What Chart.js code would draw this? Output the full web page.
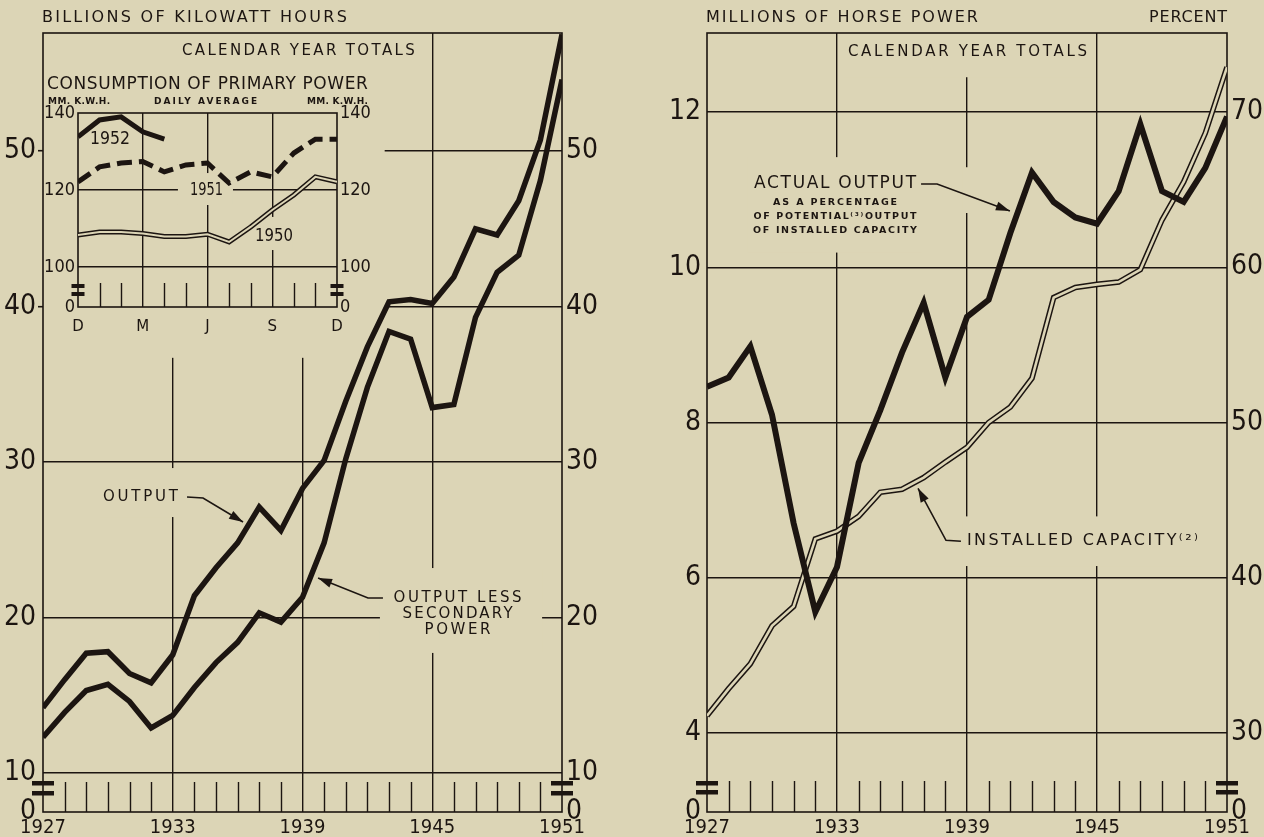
<!DOCTYPE html>
<html>
<head>
<meta charset="utf-8">
<title>Hydro power output and installed capacity</title>
<script src="https://cdn.jsdelivr.net/npm/chart.js@4.4.1/dist/chart.umd.min.js"></script>
<style>
  html, body { margin: 0; padding: 0; background: #dcd5b6; }
  #wrap { position: relative; width: 1264px; height: 837px; overflow: hidden; background: #dcd5b6; }
  canvas { position: absolute; }
  #left { left: 0; top: 0; }
  #inset { left: 0; top: 60px; }
  #right { left: 640px; top: 0; }
</style>
</head>
<body>
<div id="wrap">
  <canvas id="left" width="620" height="837"></canvas>
  <canvas id="inset" width="385" height="287"></canvas>
  <canvas id="right" width="624" height="837"></canvas>
</div>
<script>
const INK = '#1c1511';
const BG = '#dcd5b6';
const NUM_FONT = "'Liberation Sans Narrow', 'DejaVu Sans Condensed', 'Roboto Condensed', sans-serif";
const TXT_FONT = "'DejaVu Sans', Verdana, sans-serif";

// ---- data: calendar year totals ----
const years = [1927, 1928, 1929, 1930, 1931, 1932, 1933, 1934, 1935, 1936, 1937, 1938, 1939,
               1940, 1941, 1942, 1943, 1944, 1945, 1946, 1947, 1948, 1949, 1950, 1951];
const yearTicks = [1927, 1933, 1939, 1945, 1951];

// billions of kilowatt hours
const kwhTicks = [10, 20, 30, 40, 50];
const output = [14.2, 16.0, 17.7, 17.8, 16.4, 15.8, 17.6, 21.4, 23.2, 24.8, 27.1, 25.6, 28.3,
                30.1, 33.9, 37.4, 40.3, 40.45, 40.2, 41.9, 45.0, 44.6, 46.8, 50.7, 57.5];
const outputLessSecondary = [12.3, 13.9, 15.3, 15.7, 14.6, 12.9, 13.7, 15.5, 17.1, 18.4, 20.3, 19.7, 21.3,
                             24.8, 30.2, 34.8, 38.4, 37.9, 33.5, 33.7, 39.3, 42.2, 43.3, 48.1, 54.6];

// consumption of primary power, daily average, mm. k.w.h. (Dec .. Dec)
const months = ['D', 'J', 'F', 'M', 'A', 'M', 'J', 'J', 'A', 'S', 'O', 'N', 'D'];
const monthTicks = [0, 3, 6, 9, 12];
const dailyTicks = [100, 120, 140];
const daily1950 = [108.3, 109.1, 109.1, 108.7, 107.9, 107.9, 108.5, 106.5, 110.4, 114.8, 118.7, 123.4, 122.1];
const daily1951 = [122.1, 126.0, 127.0, 127.4, 124.7, 126.5, 127.0, 121.8, 124.7, 123.4, 129.6, 133.2, 133.2];
const daily1952 = [133.8, 138.2, 139.0, 135.1, 133.2];

// millions of horse power / percent
const hpTicks = [4, 6, 8, 10, 12];
const pctTicks = [30, 40, 50, 60, 70];
const installedCapacity = [4.22, 4.57, 4.89, 5.38, 5.63, 6.50, 6.60, 6.79, 7.10, 7.14, 7.29, 7.49, 7.68,
                           8.0, 8.2, 8.57, 9.61, 9.74, 9.78, 9.81, 9.97, 10.61, 11.1, 11.73, 12.58];
const actualOutputPct = [52.3, 52.9, 54.9, 50.5, 43.5, 37.8, 40.7, 47.4, 50.8, 54.5, 57.7, 52.9, 56.8,
                         57.9, 62.2, 66.1, 64.2, 63.2, 62.8, 64.9, 69.2, 64.9, 64.2, 66.4, 69.7];

const pts = (xs, ys) => ys.map((v, i) => ({ x: xs[i], y: v }));
const monthIdx = months.map((m, i) => i);

// text that is stretched (letter spacing) or squeezed to a given width
function fitText(ctx, str, cx, cy, width, font) {
  ctx.save();
  ctx.font = font;
  ctx.fillStyle = INK;
  ctx.textBaseline = 'middle';
  ctx.textAlign = 'left';
  const w = ctx.measureText(str).width;
  const n = Array.from(str).length;
  if (width > w && n > 1 && 'letterSpacing' in ctx) {
    ctx.letterSpacing = ((width - w) / (n - 1)).toFixed(2) + 'px';
    ctx.fillText(str, cx - width / 2, cy);
  } else if (width < w) {
    ctx.translate(cx - width / 2, cy);
    ctx.scale(width / w, 1);
    ctx.fillText(str, 0, 0);
  } else {
    ctx.fillText(str, cx - w / 2, cy);
  }
  ctx.restore();
}

// frame, minor ticks, axis breaks, labels and arrows
function makeDecor(conf) {
  return {
    id: 'decor',
    beforeDatasetsDraw(chart) {
      const { ctx, chartArea: a, scales } = chart;
      const X = v => scales.x.getPixelForValue(v);
      const Y = v => scales.y.getPixelForValue(v);
      ctx.save();
      ctx.fillStyle = BG;
      conf.boxes.forEach(b => {
        const x0 = X(b[0]), x1 = X(b[1]), y0 = Y(b[2]), y1 = Y(b[3]);
        ctx.fillRect(Math.min(x0, x1), Math.min(y0, y1), Math.abs(x1 - x0), Math.abs(y1 - y0));
      });
      ctx.strokeStyle = INK;
      ctx.lineWidth = 1.6;
      ctx.strokeRect(a.left, a.top, a.right - a.left, a.bottom - a.top);
      ctx.lineWidth = 1.4;
      ctx.beginPath();
      conf.minor.forEach(v => {
        const x = Math.round(X(v)) + 0.5;
        ctx.moveTo(x, a.bottom);
        ctx.lineTo(x, a.bottom - conf.minorLen);
      });
      ctx.stroke();
      ctx.fillStyle = INK;
      [a.left, a.right].forEach(edge => {
        conf.brk.ys.forEach(off => {
          ctx.fillRect(edge - conf.brk.w / 2, a.bottom - off, conf.brk.w, conf.brk.h);
        });
      });
      ctx.restore();
    },
    afterDatasetsDraw(chart) {
      const { ctx, scales } = chart;
      const X = v => scales.x.getPixelForValue(v);
      const Y = v => scales.y.getPixelForValue(v);
      conf.labels.forEach(l => {
        const font = (l.bold ? 'bold ' : '') + l.size + 'px ' + (l.num ? NUM_FONT : TXT_FONT);
        fitText(ctx, l.t, X(l.x), Y(l.y), l.w, font);
      });
      ctx.save();
      ctx.strokeStyle = INK;
      ctx.fillStyle = INK;
      ctx.lineWidth = 1.6;
      conf.arrows.forEach(path => {
        const p = path.map(q => [X(q[0]), Y(q[1])]);
        ctx.beginPath();
        p.forEach((q, i) => (i ? ctx.lineTo(q[0], q[1]) : ctx.moveTo(q[0], q[1])));
        ctx.stroke();
        const [tx, ty] = p[p.length - 1];
        const [fx, fy] = p[p.length - 2];
        const ang = Math.atan2(ty - fy, tx - fx);
        const L = 14, H = 4.5;
        ctx.beginPath();
        ctx.moveTo(tx, ty);
        ctx.lineTo(tx - L * Math.cos(ang) + H * Math.sin(ang), ty - L * Math.sin(ang) - H * Math.cos(ang));
        ctx.lineTo(tx - L * Math.cos(ang) - H * Math.sin(ang), ty - L * Math.sin(ang) + H * Math.cos(ang));
        ctx.closePath();
        ctx.fill();
      });
      ctx.restore();
    }
  };
}

function yAxis(position, min, max, ticks, o) {
  return {
    type: 'linear', position, min, max,
    afterBuildTicks: s => { s.ticks = [min].concat(ticks).map(v => ({ value: v })); },
    afterFit: s => { s.width = o.width; },
    border: { display: false },
    grid: {
      display: o.grid,
      color: c => (c.tick && c.tick.value > min && c.tick.value < max) ? INK : 'transparent',
      lineWidth: 1.4,
      drawTicks: !!o.tickLen,
      tickLength: o.tickLen || 0,
      tickWidth: 1.6,
      tickColor: c => (o.tickOn && c.tick && o.tickOn(c.tick.value)) ? INK : 'transparent'
    },
    ticks: {
      autoSkip: false, color: INK, padding: o.pad,
      font: { family: NUM_FONT, size: o.size },
      callback: v => (v === min ? '0' : String(v))
    }
  };
}

function xAxis(min, max, ticks, o) {
  return {
    type: 'linear', min, max,
    afterBuildTicks: s => { s.ticks = ticks.map(v => ({ value: v })); },
    afterFit: s => { s.height = o.height; },
    border: { display: false },
    grid: {
      color: c => (c.tick && c.tick.value > min && c.tick.value < max) ? INK : 'transparent',
      lineWidth: 1.4, drawTicks: false
    },
    ticks: {
      autoSkip: false, maxRotation: 0, color: INK, padding: o.pad,
      font: { family: o.family, size: o.size, weight: o.weight },
      callback: o.label
    }
  };
}

const base = {
  responsive: false,
  animation: false,
  events: [],
  devicePixelRatio: 1,
  plugins: { legend: { display: false }, tooltip: { enabled: false } },
  elements: { point: { radius: 0 }, line: { tension: 0, borderJoinStyle: 'miter', borderCapStyle: 'butt' } }
};

const minorYears = years.filter(y => !yearTicks.includes(y));

// ---------- left: billions of kilowatt hours ----------
const kwhMin = 7.49, kwhMax = 57.59;
new Chart(document.getElementById('left'), {
  type: 'line',
  data: {
    datasets: [
      { data: pts(years, output), borderColor: INK, borderWidth: 5.5 },
      { data: pts(years, outputLessSecondary), borderColor: INK, borderWidth: 5.5 }
    ]
  },
  options: {
    ...base,
    layout: { padding: { top: 33, left: 0, right: 0, bottom: 0 } },
    scales: {
      x: xAxis(1927, 1951, yearTicks, { height: 25, pad: 4, size: 20, family: NUM_FONT, label: v => String(v) }),
      y: yAxis('left', kwhMin, kwhMax, kwhTicks, { width: 43, grid: true, pad: 2, size: 28, tickLen: 5, tickOn: v => v >= 40 }),
      y2: yAxis('right', kwhMin, kwhMax, kwhTicks, { width: 58, grid: false, pad: 4, size: 28 })
    }
  },
  plugins: [makeDecor({
    boxes: [
      [1927, 1942.8, kwhMax, 36.7],
      [1933.24, 1944.39, 57.4, 55.47],
      [1929.59, 1933.43, 29.61, 26.46],
      [1942.58, 1950.08, 23.18, 17.72]
    ],
    minor: minorYears, minorLen: 30,
    brk: { w: 22, h: 4.5, ys: [31, 21] },
    labels: [
      { t: 'BILLIONS OF KILOWATT HOURS', x: 1934.0, y: 58.55, w: 305, size: 16 },
      { t: 'CALENDAR YEAR TOTALS', x: 1938.81, y: 56.43, w: 233, size: 15 },
      { t: 'OUTPUT', x: 1931.51, y: 27.75, w: 75, size: 15 },
      { t: 'OUTPUT LESS', x: 1946.17, y: 21.25, w: 128, size: 15 },
      { t: 'SECONDARY', x: 1946.17, y: 20.22, w: 110, size: 15 },
      { t: 'POWER', x: 1946.17, y: 19.2, w: 66, size: 15 }
    ],
    arrows: [
      [[1933.66, 27.75], [1934.4, 27.68], [1936.25, 26.14]],
      [[1942.72, 21.25], [1942.03, 21.25], [1939.72, 22.54]]
    ]
  })]
});

// ---------- inset: consumption of primary power ----------
const dayMin = 89.6, dayMax = 140;
new Chart(document.getElementById('inset'), {
  type: 'line',
  data: {
    datasets: [
      { data: pts(monthIdx, daily1952), borderColor: INK, borderWidth: 5, order: 0 },
      { data: pts(monthIdx, daily1951), borderColor: INK, borderWidth: 5, borderDash: [15, 7], order: 1 },
      { data: pts(monthIdx, daily1950), borderColor: BG, borderWidth: 2, order: 2 },
      { data: pts(monthIdx, daily1950), borderColor: INK, borderWidth: 5, order: 3 }
    ]
  },
  options: {
    ...base,
    layout: { padding: { top: 53, left: 0, right: 0, bottom: 0 } },
    scales: {
      x: xAxis(0, 12, monthTicks, { height: 40, pad: 11, size: 15, family: TXT_FONT, label: v => months[v] }),
      y: yAxis('left', dayMin, dayMax, dailyTicks, { width: 78, grid: true, pad: 3, size: 18 }),
      y2: yAxis('right', dayMin, dayMax, dailyTicks, { width: 48, grid: false, pad: 3, size: 18 })
    }
  },
  plugins: [makeDecor({
    boxes: [
      [4.63, 7.18, 124.4, 116.1],
      [8.2, 9.96, 113.0, 104.4]
    ],
    minor: monthIdx.filter(m => !monthTicks.includes(m)), minorLen: 24,
    brk: { w: 13, h: 4, ys: [23, 15] },
    labels: [
      { t: 'CONSUMPTION OF PRIMARY POWER', x: 6.0, y: 147.27, w: 321, size: 17 },
      { t: 'MM. K.W.H.', x: 0.05, y: 142.86, w: 62, size: 9, bold: true },
      { t: 'DAILY AVERAGE', x: 5.91, y: 142.86, w: 103, size: 9, bold: true },
      { t: 'MM. K.W.H.', x: 12.02, y: 142.86, w: 61, size: 9, bold: true },
      { t: '1952', x: 1.48, y: 133.25, w: 40, size: 18, num: true },
      { t: '1951', x: 5.95, y: 120, w: 33, size: 18, num: true },
      { t: '1950', x: 9.08, y: 108.05, w: 38, size: 18, num: true }
    ],
    arrows: []
  })]
});

// ---------- right: millions of horse power / percent ----------
const hpMin = 2.98, hpMax = 13.02, pctMin = 24.92, pctMax = 75.08;
new Chart(document.getElementById('right'), {
  type: 'line',
  data: {
    datasets: [
      { data: pts(years, actualOutputPct), yAxisID: 'y2', borderColor: INK, borderWidth: 6, order: 0 },
      { data: pts(years, installedCapacity), yAxisID: 'y', borderColor: BG, borderWidth: 2.6, order: 1 },
      { data: pts(years, installedCapacity), yAxisID: 'y', borderColor: INK, borderWidth: 5.6, order: 2 }
    ]
  },
  options: {
    ...base,
    layout: { padding: { top: 33, left: 0, right: 0, bottom: 0 } },
    scales: {
      x: xAxis(1927, 1951, yearTicks, { height: 25, pad: 4, size: 20, family: NUM_FONT, label: v => String(v) }),
      y: yAxis('left', hpMin, hpMax, hpTicks, { width: 67, grid: true, pad: 6, size: 28 }),
      y2: yAxis('right', pctMin, pctMax, pctTicks, { width: 37, grid: false, pad: 4, size: 28 })
    }
  },
  plugins: [makeDecor({
    boxes: [
      [1933.28, 1944.77, 13.02, 12.45],
      [1928.89, 1936.92, 11.42, 10.19],
      [1938.77, 1939.14, 11.29, 10.70],
      [1938.77, 1949.89, 6.79, 6.15]
    ],
    minor: minorYears, minorLen: 31,
    brk: { w: 22, h: 4.5, ys: [31, 22] },
    labels: [
      { t: 'MILLIONS OF HORSE POWER', x: 1933.23, y: 13.21, w: 272, size: 16 },
      { t: 'PERCENT', x: 1949.2, y: 13.21, w: 78, size: 16 },
      { t: 'CALENDAR YEAR TOTALS', x: 1939.02, y: 12.78, w: 239, size: 15 },
      { t: 'ACTUAL OUTPUT', x: 1932.91, y: 11.074, w: 162, size: 17 },
      { t: 'AS A PERCENTAGE', x: 1932.91, y: 10.83, w: 124, size: 9.5, bold: true },
      { t: 'OF POTENTIAL\u207D\u00B3\u207EOUTPUT', x: 1932.91, y: 10.65, w: 163, size: 9.5, bold: true },
      { t: 'OF INSTALLED CAPACITY', x: 1932.91, y: 10.47, w: 164, size: 9.5, bold: true },
      { t: 'INSTALLED CAPACITY\u207D\u00B2\u207E', x: 1944.33, y: 6.47, w: 231, size: 16 }
    ],
    arrows: [
      [[1936.88, 11.074], [1937.62, 11.074], [1940.98, 10.727]],
      [[1938.72, 6.469], [1938.03, 6.482], [1936.74, 7.151]]
    ]
  })]
});
</script>
</body>
</html>
